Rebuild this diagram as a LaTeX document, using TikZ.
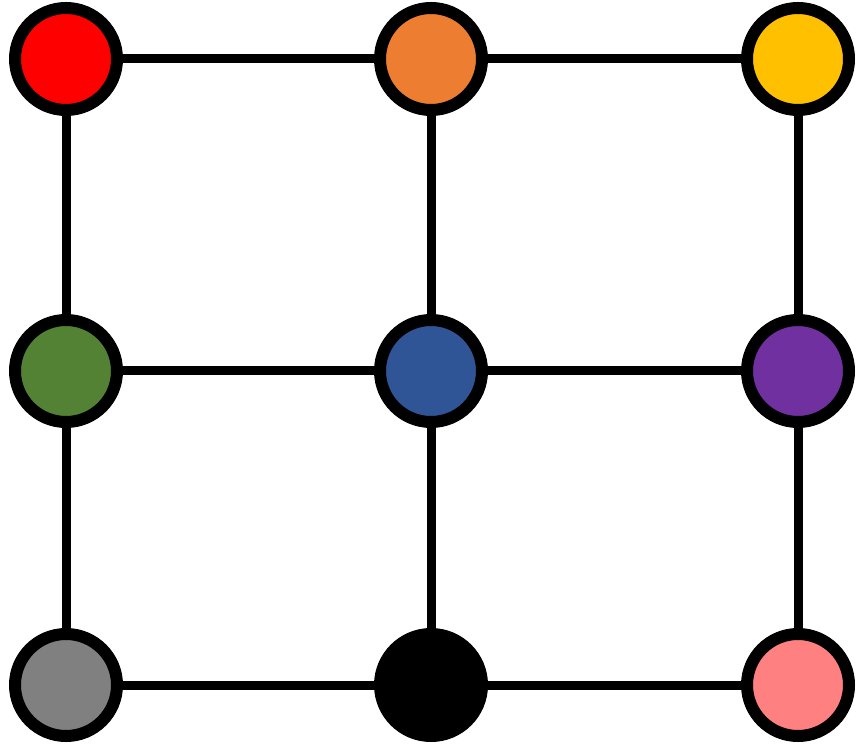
\documentclass[tikz,border=0pt]{standalone}
\usetikzlibrary{positioning}
\definecolor{cred}{RGB}{255,0,0}
\definecolor{corange}{RGB}{237,125,49}
\definecolor{cyellow}{RGB}{255,192,0}
\definecolor{cgreen}{RGB}{84,130,53}
\definecolor{cblue}{RGB}{47,85,151}
\definecolor{cpurple}{RGB}{112,48,160}
\definecolor{cgray}{RGB}{128,128,128}
\definecolor{cpink}{RGB}{255,128,128}
\begin{document}
\begin{tikzpicture}[x=1pt, y=1pt,
  dot/.style={circle, draw=black, line width=12pt, minimum size=102pt, inner sep=0pt},
  link/.style={line width=9pt}]
  \useasboundingbox (0,0) rectangle (856,745);
  % 第一行
  \node[dot, fill=cred]    (red)    at (66,686) {};
  \node[dot, fill=corange] (orange) at (431,686) {};
  \node[dot, fill=cyellow] (yellow) at (798,686) {};
  % 第二行
  \node[dot, fill=cgreen]  (green)  at (66,374) {};
  \node[dot, fill=cblue]   (blue)   at (431,374) {};
  \node[dot, fill=cpurple] (purple) at (798,374) {};
  % 第三行
  \node[dot, fill=cgray]   (gray)   at (66,60) {};
  \node[dot, fill=black]   (black)  at (431,60) {};
  \node[dot, fill=cpink]   (pink)   at (798,60) {};
  % 横线
  \draw[link] (red) -- (orange);
  \draw[link] (orange) -- (yellow);
  \draw[link] (green) -- (blue);
  \draw[link] (blue) -- (purple);
  \draw[link] (gray) -- (black);
  \draw[link] (black) -- (pink);
  % 竖线
  \draw[link] (red) -- (green);
  \draw[link] (green) -- (gray);
  \draw[link] (orange) -- (blue);
  \draw[link] (blue) -- (black);
  \draw[link] (yellow) -- (purple);
  \draw[link] (purple) -- (pink);
\end{tikzpicture}
\end{document}
